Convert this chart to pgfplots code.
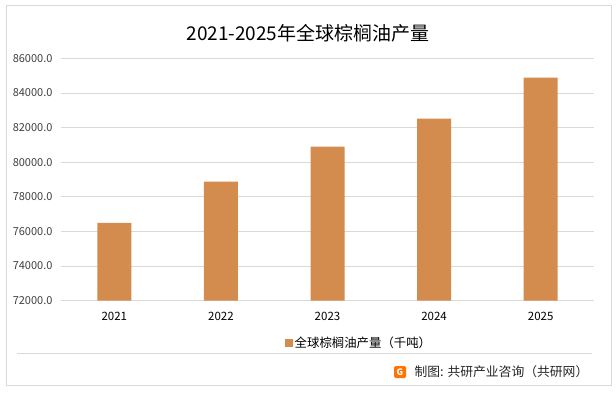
\documentclass[border=0pt]{standalone}
\usepackage{pgfplots}
\pgfplotsset{compat=1.18}
\usepackage{fontspec}
\setmainfont{Noto Sans CJK SC}
\definecolor{barc}{RGB}{211,140,78}
\definecolor{gridc}{RGB}{217,217,217}
\definecolor{ticc}{RGB}{64,64,64}
\definecolor{borderc}{RGB}{217,217,217}
\begin{document}
\begin{tikzpicture}[x=1pt,y=1pt]
\fill[white] (0,0) rectangle (616,392);
\draw[borderc, line width=0.8pt] (6,7) rectangle (611,387);
\draw[borderc, line width=0.8pt] (17,39) -- (592,39);
\node[font=\fontsize{19}{22}\selectfont, text=black] at (308,359) {2021-2025年全球棕榈油产量};
\begin{axis}[
  at={(61pt,91.3pt)}, anchor=south west,
  scale only axis, width=533pt, height=242.4pt,
  xmin=-0.5, xmax=4.5, ymin=72000, ymax=86000,
  ytick={72000,74000,...,86000},
  xtick={0,1,2,3,4},
  xticklabels={2021,2022,2023,2024,2025},
  axis line style={draw=none},
  tick style={draw=none},
  ymajorgrids, grid style={gridc, line width=0.8pt},
  /pgf/number format/assume math mode=true,
  yticklabel style={/pgf/number format/fixed, /pgf/number format/fixed zerofill, /pgf/number format/precision=1, /pgf/number format/1000 sep={}},
  yticklabel style={font=\fontsize{11}{12}\selectfont, text=ticc, xshift=-5pt},
  xticklabel style={font=\fontsize{11.5}{13}\selectfont, text=black, yshift=-8pt},
  scaled y ticks=false,
  legend style={at={(axis description cs:0.559,-0.1745)}, anchor=center, draw=none, fill=none,
    font=\fontsize{12.4}{14}\selectfont, inner sep=0pt},
  legend image code/.code={\fill[barc] (0pt,-4pt) rectangle (8pt,4pt);},
]
\addplot[ybar, bar width=34pt, fill=barc, draw=none] coordinates {(0,76500) (1,78880) (2,80900) (3,82510) (4,84890)};
\addlegendentry{全球棕榈油产量（千吨）}
\end{axis}
\fill[rounded corners=1.5pt, orange!90!red] (394,14) rectangle (406,26);
\node[font=\fontsize{9}{10}\selectfont\bfseries, text=white] at (400,20) {G};
\node[anchor=west, font=\fontsize{12.8}{14}\selectfont, text=black!85] at (411,20) {制图: 共研产业咨询（共研网）};
\end{tikzpicture}
\end{document}
